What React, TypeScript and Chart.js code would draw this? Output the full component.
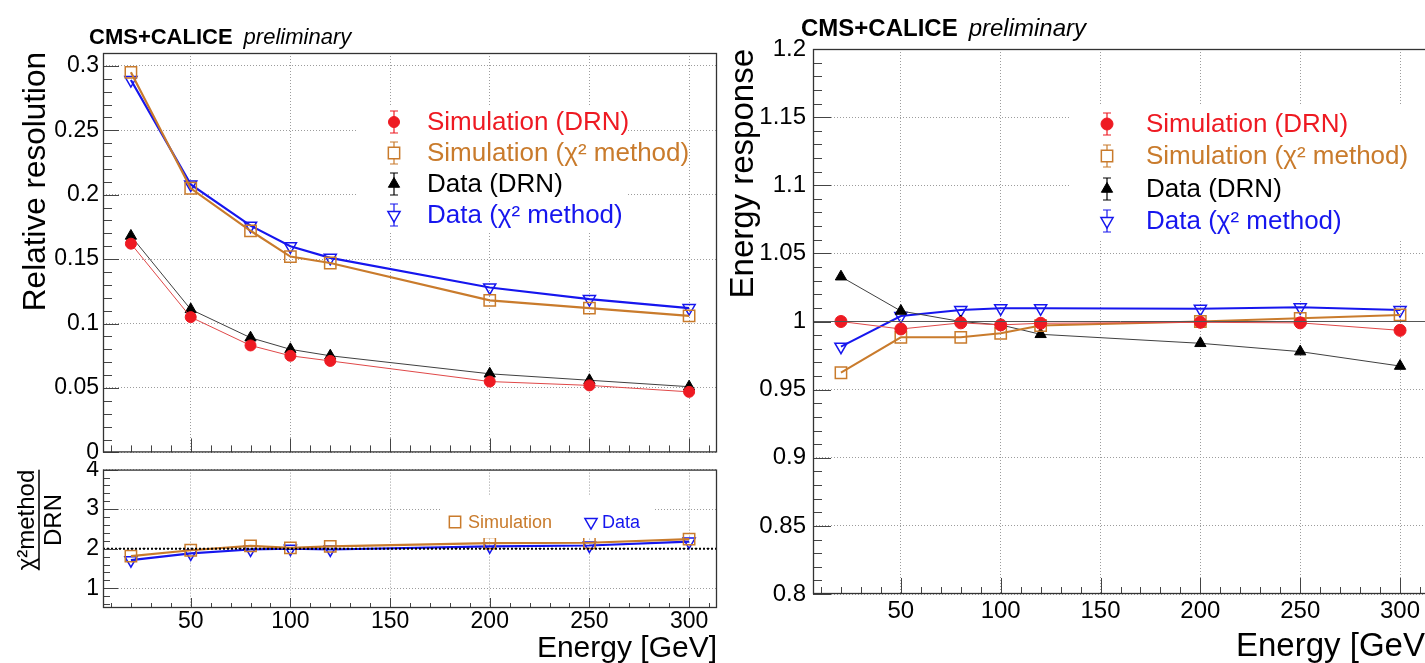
import React, { useEffect, useRef } from "react";
import { Chart, registerables } from "chart.js";

Chart.register(...registerables);

// ---------------- data ----------------
const ENERGY = [20, 50, 80, 100, 120, 200, 250, 300];

const RES_SIM_DRN = [0.162, 0.105, 0.083, 0.075, 0.071, 0.055, 0.052, 0.047];
const RES_SIM_CHI2 = [0.295, 0.205, 0.172, 0.152, 0.147, 0.118, 0.112, 0.106];
const RES_DATA_DRN = [0.168, 0.111, 0.089, 0.080, 0.075, 0.061, 0.056, 0.051];
const RES_DATA_CHI2 = [0.289, 0.208, 0.176, 0.160, 0.151, 0.128, 0.119, 0.112];

const RATIO_SIM = [1.81, 1.96, 2.07, 2.02, 2.06, 2.14, 2.15, 2.24];
const RATIO_DATA = [1.71, 1.88, 1.98, 2.0, 1.98, 2.06, 2.08, 2.18];

const RESP_SIM_DRN = [1.0, 0.9945, 0.999, 0.9975, 0.9987, 0.9994, 0.999, 0.9935];
const RESP_SIM_CHI2 = [0.9624, 0.9884, 0.9884, 0.9913, 0.997, 1.0, 1.0023, 1.0048];
const RESP_DATA_DRN = [1.0329, 1.0077, 1.0, 0.9975, 0.9906, 0.984, 0.9779, 0.9673];
const RESP_DATA_CHI2 = [0.9815, 1.004, 1.0084, 1.0097, 1.0097, 1.0093, 1.0104, 1.0084];

const ENERGY_TICKS = [50, 100, 150, 200, 250, 300];
const RES_Y_TICKS = [0, 0.05, 0.1, 0.15, 0.2, 0.25, 0.3];
const RATIO_Y_TICKS = [1, 2, 3, 4];
const RESP_Y_TICKS = [0.8, 0.85, 0.9, 0.95, 1, 1.05, 1.1, 1.15, 1.2];

const LABEL_SIM_DRN = "Simulation (DRN)";
const LABEL_SIM_CHI2 = "Simulation (χ² method)";
const LABEL_DATA_DRN = "Data (DRN)";
const LABEL_DATA_CHI2 = "Data (χ² method)";

// ---------------- styles ----------------
const FONT = '"Liberation Sans", Arial, Helvetica, sans-serif';
const RED = "#ee1a22";
const RED_LINE = "#e04848";
const ORANGE = "#c97b2c";
const BLUE = "#1616ee";
const BLACK = "#000000";
const BLACK_LINE = "#404040";
const GRID = "#9c9c9c";
const FRAME = "#333333";

function series(label: string, values: number[], color: string, lineColor: string, style: string, o: any) {
  return {
    label,
    data: ENERGY.map((x, i) => ({ x, y: values[i] })),
    borderColor: lineColor,
    backgroundColor: color,
    borderWidth: o.lw,
    pointStyle: style,
    pointRadius: o.r,
    pointHoverRadius: o.r,
    pointRotation: o.rot || 0,
    pointBackgroundColor: o.open ? "rgba(0,0,0,0)" : color,
    pointBorderColor: color,
    pointBorderWidth: o.open ? 1.5 : 1,
    markerColor: color,
    tension: 0,
    fill: false,
  };
}

function xScale(showLabels: boolean, height: number, size: number, pad: number) {
  return {
    type: "linear",
    position: "bottom",
    min: 6,
    max: 314,
    bounds: "data",
    afterBuildTicks: (s: any) => {
      s.ticks = ENERGY_TICKS.map((v) => ({ value: v }));
    },
    afterFit: (s: any) => {
      s.height = height;
    },
    grid: { color: GRID, lineWidth: 1, drawTicks: false },
    border: { display: false, dash: [1, 2] },
    ticks: {
      display: showLabels,
      padding: pad,
      autoSkip: false,
      maxRotation: 0,
      color: "#000",
      font: { family: FONT, size },
      callback: (v: any) => String(v),
    },
  };
}

function yScale(min: number, max: number, ticks: number[], width: number, size: number, pad: number) {
  return {
    type: "linear",
    position: "left",
    min,
    max,
    bounds: "data",
    afterBuildTicks: (s: any) => {
      s.ticks = ticks.map((v) => ({ value: v }));
    },
    afterFit: (s: any) => {
      s.width = width;
    },
    grid: { color: GRID, lineWidth: 1, drawTicks: false },
    border: { display: false, dash: [1, 2] },
    ticks: {
      padding: pad,
      autoSkip: false,
      color: "#000",
      font: { family: FONT, size, lineHeight: 0.4 },
      callback: (v: any) => String(v),
    },
  };
}

function drawMarker(ctx: any, style: string, x: number, y: number, r: number, rot: number, fill: string, stroke: string, lw: number) {
  ctx.save();
  ctx.beginPath();
  if (style === "circle") {
    ctx.arc(x, y, r, 0, Math.PI * 2);
  } else if (style === "rect") {
    const s = r / Math.SQRT2;
    ctx.rect(x - s, y - s, 2 * s, 2 * s);
  } else {
    let a = ((rot || 0) * Math.PI) / 180;
    ctx.moveTo(x + Math.sin(a) * r, y - Math.cos(a) * r);
    a += (2 * Math.PI) / 3;
    ctx.lineTo(x + Math.sin(a) * r, y - Math.cos(a) * r);
    a += (2 * Math.PI) / 3;
    ctx.lineTo(x + Math.sin(a) * r, y - Math.cos(a) * r);
    ctx.closePath();
  }
  if (fill && fill !== "rgba(0,0,0,0)") {
    ctx.fillStyle = fill;
    ctx.fill();
  }
  ctx.lineWidth = lw;
  ctx.strokeStyle = stroke;
  ctx.stroke();
  ctx.restore();
}

function header(ctx: any, x: number, y: number, size: number) {
  ctx.save();
  ctx.fillStyle = "#000";
  ctx.textAlign = "left";
  ctx.textBaseline = "alphabetic";
  ctx.font = `bold ${size}px ${FONT}`;
  ctx.fillText("CMS+CALICE", x, y);
  const w = ctx.measureText("CMS+CALICE").width;
  ctx.font = `italic ${size}px ${FONT}`;
  ctx.fillText("preliminary", x + w + 11, y);
  ctx.restore();
}

function decoPlugin(d: any) {
  return {
    id: "rootDeco",
    beforeDraw(chart: any) {
      const ctx = chart.ctx;
      ctx.save();
      ctx.fillStyle = "#fff";
      ctx.fillRect(0, 0, chart.width, chart.height);
      ctx.restore();
    },
    afterDatasetsDraw(chart: any) {
      const ctx = chart.ctx;
      const { left, right } = chart.chartArea;
      const ys = chart.scales.y;
      if (d.refLine) {
        const py = ys.getPixelForValue(d.refLine.value);
        ctx.save();
        ctx.strokeStyle = d.refLine.color;
        ctx.lineWidth = d.refLine.width;
        ctx.setLineDash(d.refLine.dash);
        ctx.beginPath();
        ctx.moveTo(left, py);
        ctx.lineTo(right, py);
        ctx.stroke();
        ctx.restore();
      }
      if (d.legend) {
        const L = d.legend;
        ctx.save();
        ctx.fillStyle = "#fff";
        ctx.fillRect(L.box[0], L.box[1], L.box[2] - L.box[0], L.box[3] - L.box[1]);
        ctx.font = `${L.font}px ${FONT}`;
        ctx.textAlign = "left";
        ctx.textBaseline = "middle";
        for (const it of L.items) {
          const ds = chart.data.datasets[it.ds];
          const col = ds.markerColor;
          if (L.errorBars) {
            ctx.save();
            ctx.strokeStyle = col;
            ctx.lineWidth = 1.2;
            ctx.beginPath();
            ctx.moveTo(it.mx, it.y - 11);
            ctx.lineTo(it.mx, it.y + 11);
            ctx.moveTo(it.mx - 4, it.y - 11);
            ctx.lineTo(it.mx + 4, it.y - 11);
            ctx.moveTo(it.mx - 4, it.y + 11);
            ctx.lineTo(it.mx + 4, it.y + 11);
            ctx.stroke();
            ctx.restore();
          }
          drawMarker(ctx, ds.pointStyle, it.mx, it.y, ds.pointRadius, ds.pointRotation, ds.pointBackgroundColor === "rgba(0,0,0,0)" ? (L.errorBars ? "#fff" : "") : col, col, ds.pointBorderWidth);
          ctx.fillStyle = col;
          ctx.fillText(ds.label, it.tx, it.y + 1);
        }
        ctx.restore();
      }
    },
    afterDraw(chart: any) {
      const ctx = chart.ctx;
      const { left, right, top, bottom } = chart.chartArea;
      const xs = chart.scales.x;
      const ys = chart.scales.y;
      ctx.save();
      ctx.strokeStyle = "#444";
      ctx.lineWidth = 1;
      ctx.beginPath();
      const yk0 = Math.ceil(ys.min / d.yMinorStep - 1e-6);
      for (let k = yk0; k * d.yMinorStep <= ys.max + 1e-9; k++) {
        const v = k * d.yMinorStep;
        const major = d.yMajor.some((m: number) => Math.abs(m - v) < 1e-7);
        const py = Math.round(ys.getPixelForValue(v)) + 0.5;
        ctx.moveTo(left, py);
        ctx.lineTo(left + (major ? d.yMajorLen : d.yMinorLen), py);
      }
      const xk0 = Math.ceil(xs.min / d.xMinorStep - 1e-6);
      for (let k = xk0; k * d.xMinorStep <= xs.max + 1e-9; k++) {
        const v = k * d.xMinorStep;
        const major = d.xMajor.some((m: number) => Math.abs(m - v) < 1e-7);
        const px = Math.round(xs.getPixelForValue(v)) + 0.5;
        ctx.moveTo(px, bottom);
        ctx.lineTo(px, bottom - (major ? d.xMajorLen : d.xMinorLen));
      }
      ctx.stroke();
      ctx.strokeStyle = FRAME;
      ctx.lineWidth = 1.3;
      ctx.strokeRect(left + 0.5, top + 0.5, right - left - 1, bottom - top - 1);
      ctx.restore();
      if (d.draw) {
        ctx.save();
        d.draw(ctx);
        ctx.restore();
      }
    },
  };
}

function baseOptions(padding: any, scales: any) {
  return {
    responsive: false,
    maintainAspectRatio: false,
    animation: false,
    devicePixelRatio: 1,
    events: [],
    layout: { padding, autoPadding: false },
    plugins: { legend: { display: false }, tooltip: { enabled: false }, title: { display: false } },
    scales,
  };
}

function configResolution() {
  return {
    type: "line",
    data: {
      datasets: [
        series(LABEL_SIM_DRN, RES_SIM_DRN, RED, RED_LINE, "circle", { lw: 1, r: 5.5 }),
        series(LABEL_SIM_CHI2, RES_SIM_CHI2, ORANGE, ORANGE, "rect", { lw: 2.2, r: 8, open: true }),
        series(LABEL_DATA_DRN, RES_DATA_DRN, BLACK, BLACK_LINE, "triangle", { lw: 1, r: 6.5 }),
        series(LABEL_DATA_CHI2, RES_DATA_CHI2, BLUE, BLUE, "triangle", { lw: 2.2, r: 7, rot: 180, open: true }),
      ],
    },
    options: baseOptions(
      { top: 53, right: 5, bottom: 6, left: 0 },
      { x: xScale(false, 0, 23, 0), y: yScale(0, 0.31, RES_Y_TICKS, 103, 23, 4) }
    ),
    plugins: [
      decoPlugin({
        yMajor: RES_Y_TICKS, yMinorStep: 0.01, xMajor: ENERGY_TICKS, xMinorStep: 10,
        yMajorLen: 16, yMinorLen: 9, xMajorLen: 14, xMinorLen: 7,
        legend: {
          box: [358, 106, 627, 233], font: 26, errorBars: true,
          items: [
            { ds: 0, mx: 394, tx: 427, y: 122 },
            { ds: 1, mx: 394, tx: 427, y: 153 },
            { ds: 2, mx: 394, tx: 427, y: 184 },
            { ds: 3, mx: 394, tx: 427, y: 215 },
          ],
        },
        draw: (ctx: any) => {
          header(ctx, 89, 44, 22);
          ctx.fillStyle = "#000";
          ctx.font = `31.5px ${FONT}`;
          ctx.translate(45, 52);
          ctx.rotate(-Math.PI / 2);
          ctx.textAlign = "right";
          ctx.textBaseline = "alphabetic";
          ctx.fillText("Relative resolution", 0, 0);
        },
      }),
    ],
  };
}

function configRatio() {
  return {
    type: "line",
    data: {
      datasets: [
        series("Simulation", RATIO_SIM, ORANGE, ORANGE, "rect", { lw: 2.2, r: 8, open: true }),
        series("Data", RATIO_DATA, BLUE, BLUE, "triangle", { lw: 2.2, r: 7, rot: 180, open: true }),
      ],
    },
    options: baseOptions(
      { top: 6, right: 5, bottom: 0, left: 0 },
      { x: xScale(true, 55, 23, 0), y: yScale(0.5, 4, RATIO_Y_TICKS, 103, 23, 4) }
    ),
    plugins: [
      decoPlugin({
        yMajor: RATIO_Y_TICKS, yMinorStep: 0.2, xMajor: ENERGY_TICKS, xMinorStep: 10,
        yMajorLen: 15, yMinorLen: 7, xMajorLen: 10, xMinorLen: 5,
        refLine: { value: 2, color: "#000", width: 2, dash: [2, 2] },
        legend: {
          box: [441, 35, 654, 77], font: 18, errorBars: false,
          items: [
            { ds: 0, mx: 455, tx: 468, y: 61 },
            { ds: 1, mx: 591, tx: 602, y: 61 },
          ],
        },
        draw: (ctx: any) => {
          ctx.fillStyle = "#000";
          ctx.font = `30px ${FONT}`;
          ctx.textAlign = "right";
          ctx.textBaseline = "alphabetic";
          ctx.fillText("Energy [GeV]", 717, 196);
          ctx.translate(39, 59);
          ctx.rotate(-Math.PI / 2);
          ctx.font = `24px ${FONT}`;
          ctx.textAlign = "center";
          const num = "χ²method";
          const w = ctx.measureText(num).width;
          ctx.textBaseline = "alphabetic";
          ctx.fillText(num, 0, -5);
          ctx.fillRect(-w / 2, -0.75, w, 1.5);
          ctx.textBaseline = "top";
          ctx.fillText("DRN", 0, 3);
        },
      }),
    ],
  };
}

function configResponse() {
  return {
    type: "line",
    data: {
      datasets: [
        series(LABEL_SIM_DRN, RESP_SIM_DRN, RED, RED_LINE, "circle", { lw: 1, r: 6 }),
        series(LABEL_SIM_CHI2, RESP_SIM_CHI2, ORANGE, ORANGE, "rect", { lw: 2, r: 8, open: true }),
        series(LABEL_DATA_DRN, RESP_DATA_DRN, BLACK, BLACK_LINE, "triangle", { lw: 1, r: 6.5 }),
        series(LABEL_DATA_CHI2, RESP_DATA_CHI2, BLUE, BLUE, "triangle", { lw: 2, r: 7, rot: 180, open: true }),
      ],
    },
    options: baseOptions(
      { top: 49, right: 6, bottom: 0, left: 0 },
      { x: xScale(true, 69, 24, 3), y: yScale(0.8, 1.2, RESP_Y_TICKS, 91, 24, 7) }
    ),
    plugins: [
      decoPlugin({
        yMajor: RESP_Y_TICKS, yMinorStep: 0.01, xMajor: ENERGY_TICKS, xMinorStep: 10,
        yMajorLen: 18, yMinorLen: 9, xMajorLen: 16, xMinorLen: 7,
        refLine: { value: 1, color: "#555", width: 1, dash: [] },
        legend: {
          box: [347, 105, 712, 239], font: 26, errorBars: true,
          items: [
            { ds: 0, mx: 385, tx: 424, y: 124 },
            { ds: 1, mx: 385, tx: 424, y: 156 },
            { ds: 2, mx: 385, tx: 424, y: 189 },
            { ds: 3, mx: 385, tx: 424, y: 221 },
          ],
        },
        draw: (ctx: any) => {
          header(ctx, 79, 36, 24);
          ctx.fillStyle = "#000";
          ctx.font = `33px ${FONT}`;
          ctx.textAlign = "left";
          ctx.textBaseline = "alphabetic";
          ctx.fillText("Energy [GeV]", 514, 656);
          ctx.translate(31, 49);
          ctx.rotate(-Math.PI / 2);
          ctx.textAlign = "right";
          ctx.fillText("Energy response", 0, 0);
        },
      }),
    ],
  };
}

export default function App() {
  const refA = useRef<HTMLCanvasElement>(null);
  const refB = useRef<HTMLCanvasElement>(null);
  const refC = useRef<HTMLCanvasElement>(null);

  useEffect(() => {
    const charts: any[] = [];
    if (refA.current) charts.push(new Chart(refA.current, configResolution() as any));
    if (refB.current) charts.push(new Chart(refB.current, configRatio() as any));
    if (refC.current) charts.push(new Chart(refC.current, configResponse() as any));
    return () => charts.forEach((c) => c.destroy());
  }, []);

  return (
    <div style={{ position: "fixed", left: 0, top: 0, width: 1425, height: 663, overflow: "hidden", background: "#fff" }}>
      <canvas ref={refA} width={722} height={461} style={{ position: "absolute", left: 0, top: 0, width: 722, height: 461 }} />
      <canvas ref={refB} width={722} height={202} style={{ position: "absolute", left: 0, top: 461, width: 722, height: 202 }} />
      <canvas ref={refC} width={712} height={663} style={{ position: "absolute", left: 722, top: 0, width: 712, height: 663 }} />
    </div>
  );
}
